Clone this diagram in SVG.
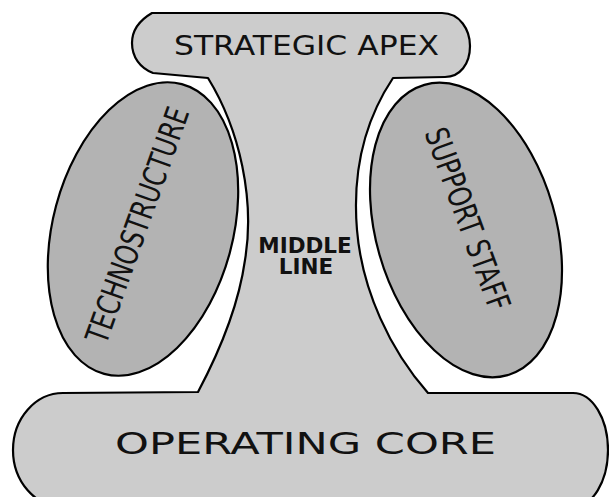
<svg xmlns="http://www.w3.org/2000/svg" width="609" height="497" viewBox="0 0 609 497">
  <style>
    .part { fill: #cccccc; stroke: none; }
    .edge { fill: none; stroke: #000000; stroke-width: 2.2; stroke-linejoin: round; }
    .unit { fill: #b3b3b3; stroke: #000000; stroke-width: 2.2; }
    .lbl { font-family: "DejaVu Sans", "Liberation Sans", sans-serif; fill: #111111; }
    .bold { font-weight: bold; }
  </style>

  <!-- Strategic apex: rounded cap on top -->
  <g id="strategic-apex">
    <path class="part" d="M 152,13 L 442,13 C 460,13 470,30 470,46 C 470,64 460,77 445,77 L 393,78 L 208,78 L 153,73 C 140,68 132,57 132,43 C 132,30 140,20 152,13 Z"/>
  </g>

  <!-- Middle line: concave stem joining apex and core -->
  <g id="middle-line">
    <path class="part" d="M 205,72 L 396,72 L 393,78 C 365,120 352,170 357,230 C 362,290 390,350 428,393 L 428,400 L 198,400 L 198,392 C 215,360 238,310 245,260 C 255,200 240,130 208,78 Z"/>
  </g>

  <!-- Operating core: wide rounded base -->
  <g id="operating-core">
    <path class="part" d="M 63,393 L 573,393 A 35 57 0 0 1 573,507 L 63,507 A 50 57 0 0 1 63,393 Z"/>
  </g>

  <!-- Common outline around apex, stem and core -->
  <g id="outline">
    <path class="edge" d="M 152,13 L 442,13 C 460,13 470,30 470,46 C 470,64 460,77 445,77 L 393,78 C 365,120 352,170 357,230 C 362,290 390,350 428,393 L 573,393 A 35 57 0 0 1 573,507 L 63,507 A 50 57 0 0 1 63,393 L 198,392 C 215,360 238,310 245,260 C 255,200 240,130 208,78 L 153,73 C 140,68 132,57 132,43 C 132,30 140,20 152,13 Z"/>
  </g>

  <!-- Labels of the central column -->
  <g id="apex-label">
    <text class="lbl" x="174" y="55" font-size="27" textLength="265" lengthAdjust="spacingAndGlyphs">STRATEGIC APEX</text>
  </g>
  <g id="middle-label">
    <text class="lbl bold" font-size="21.5" text-anchor="middle"><tspan x="305" y="253">MIDDLE</tspan><tspan x="306" y="273.5">LINE</tspan></text>
  </g>
  <g id="core-label">
    <text class="lbl" x="115" y="454" font-size="30" textLength="381" lengthAdjust="spacingAndGlyphs">OPERATING CORE</text>
  </g>

  <!-- Technostructure: tilted oval on the left -->
  <g id="technostructure">
    <ellipse class="unit" cx="143" cy="229" rx="90" ry="150" transform="rotate(15 143 229)"/>
    <text class="lbl" transform="translate(137 225) rotate(-70.3)" x="0" y="11.5" font-size="32" text-anchor="middle" textLength="248" lengthAdjust="spacingAndGlyphs">TECHNOSTRUCTURE</text>
  </g>

  <!-- Support staff: tilted oval on the right -->
  <g id="support-staff">
    <ellipse class="unit" cx="466" cy="230" rx="90" ry="151" transform="rotate(-16 466 230)"/>
    <text class="lbl" transform="translate(468 219) rotate(70)" x="0" y="11.5" font-size="32" text-anchor="middle" textLength="192" lengthAdjust="spacingAndGlyphs">SUPPORT STAFF</text>
  </g>
</svg>
